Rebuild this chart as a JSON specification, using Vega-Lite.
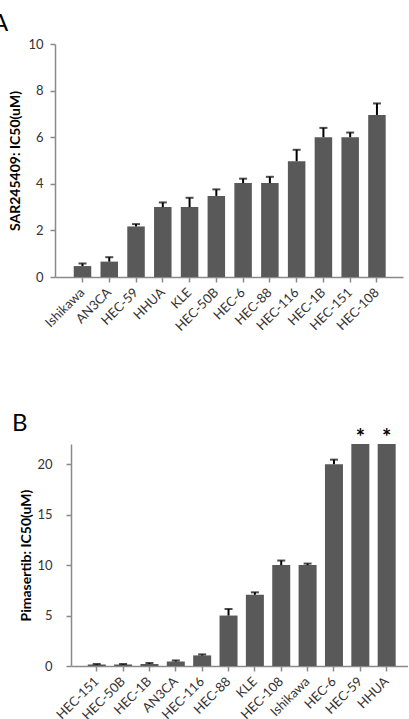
{
  "$schema": "https://vega.github.io/schema/vega-lite/v6.json",
  "padding": {"left": -8, "top": 12, "right": 0, "bottom": -4},
  "spacing": 78,
  "config": {
    "font": "Lato",
    "view": {"stroke": null},
    "axis": {
      "grid": false,
      "domainColor": "#8a8a8a",
      "domainWidth": 1.5,
      "tickColor": "#8a8a8a",
      "tickWidth": 1.5,
      "tickSize": 5,
      "labelFont": "Lato",
      "labelFontSize": 13,
      "labelColor": "#333333",
      "titleFont": "Lato",
      "titleFontSize": 14,
      "titleFontWeight": "bold",
      "titleColor": "#000000"
    }
  },
  "vconcat": [
    {
      "title": {"text": "A", "anchor": "start", "frame": "group", "dx": -63, "fontSize": 24, "fontWeight": "normal", "color": "#000000", "offset": 2},
      "width": 348,
      "height": 233,
      "data": {
        "values": [
          {"cell": "Ishikawa", "ic50": 0.47, "upper": 0.58},
          {"cell": "AN3CA", "ic50": 0.66, "upper": 0.85},
          {"cell": "HEC-59", "ic50": 2.17, "upper": 2.27},
          {"cell": "HHUA", "ic50": 3.0, "upper": 3.2},
          {"cell": "KLE", "ic50": 3.0, "upper": 3.4},
          {"cell": "HEC-50B", "ic50": 3.48, "upper": 3.76},
          {"cell": "HEC-6", "ic50": 4.03, "upper": 4.22},
          {"cell": "HEC-88", "ic50": 4.03, "upper": 4.3},
          {"cell": "HEC-116", "ic50": 4.97, "upper": 5.46},
          {"cell": "HEC-1B", "ic50": 6.0, "upper": 6.4},
          {"cell": "HEC-151", "ic50": 6.0, "upper": 6.2},
          {"cell": "HEC-108", "ic50": 6.95, "upper": 7.45}
        ]
      },
      "encoding": {
        "x": {
          "field": "cell",
          "type": "nominal",
          "sort": null,
          "scale": {"paddingInner": 0.346, "paddingOuter": 0.673, "align": 0.52},
          "axis": {"title": null, "labelAngle": -45, "labelAlign": "right", "labelBaseline": "middle", "labelPadding": 8}
        }
      },
      "layer": [
        {
          "mark": {"type": "bar", "color": "#595959"},
          "encoding": {
            "y": {
              "field": "ic50",
              "type": "quantitative",
              "scale": {"domain": [0, 10], "nice": false},
              "axis": {"title": "SAR245409: IC50(uM)", "values": [0, 2, 4, 6, 8, 10], "labelPadding": 7, "titlePadding": 5}
            }
          }
        },
        {
          "mark": {"type": "rule", "color": "#000000", "strokeWidth": 2},
          "encoding": {
            "y": {"field": "ic50", "type": "quantitative", "title": "SAR245409: IC50(uM)"},
            "y2": {"field": "upper"}
          }
        },
        {
          "mark": {"type": "tick", "orient": "horizontal", "color": "#000000", "size": 8, "thickness": 2},
          "encoding": {
            "y": {"field": "upper", "type": "quantitative", "title": "SAR245409: IC50(uM)"}
          }
        }
      ]
    },
    {
      "title": {"text": "B", "anchor": "start", "frame": "group", "dx": -43, "fontSize": 24, "fontWeight": "normal", "color": "#000000", "offset": -9},
      "width": 353,
      "height": 222,
      "data": {
        "values": [
          {"cell": "HEC-151", "ic50": 0.15, "upper": 0.2},
          {"cell": "HEC-50B", "ic50": 0.15, "upper": 0.2},
          {"cell": "HEC-1B", "ic50": 0.2, "upper": 0.3},
          {"cell": "AN3CA", "ic50": 0.45, "upper": 0.55},
          {"cell": "HEC-116", "ic50": 1.05, "upper": 1.15},
          {"cell": "HEC-88", "ic50": 5.0, "upper": 5.65},
          {"cell": "KLE", "ic50": 7.05, "upper": 7.3},
          {"cell": "HEC-108", "ic50": 10.0, "upper": 10.45},
          {"cell": "Ishikawa", "ic50": 10.0, "upper": 10.15},
          {"cell": "HEC-6", "ic50": 20.0, "upper": 20.45},
          {"cell": "HEC-59", "ic50": 22, "mark": "*"},
          {"cell": "HHUA", "ic50": 22, "mark": "*"}
        ]
      },
      "encoding": {
        "x": {
          "field": "cell",
          "type": "nominal",
          "sort": null,
          "scale": {"range": [16, 353], "paddingInner": 0.317, "paddingOuter": 0.551, "align": 0.576},
          "axis": {"title": null, "labelAngle": -45, "labelAlign": "right", "labelBaseline": "middle", "labelPadding": 8}
        }
      },
      "layer": [
        {
          "mark": {"type": "bar", "color": "#595959"},
          "encoding": {
            "y": {
              "field": "ic50",
              "type": "quantitative",
              "scale": {"domain": [0, 22], "nice": false},
              "axis": {"title": "Pimasertib: IC50(uM)", "values": [0, 5, 10, 15, 20], "offset": -16, "labelPadding": 14, "titlePadding": 3}
            }
          }
        },
        {
          "transform": [{"filter": "datum.upper != null"}],
          "mark": {"type": "rule", "color": "#000000", "strokeWidth": 2},
          "encoding": {
            "y": {"field": "ic50", "type": "quantitative", "title": "Pimasertib: IC50(uM)"},
            "y2": {"field": "upper"}
          }
        },
        {
          "transform": [{"filter": "datum.upper != null"}],
          "mark": {"type": "tick", "orient": "horizontal", "color": "#000000", "size": 8, "thickness": 2},
          "encoding": {
            "y": {"field": "upper", "type": "quantitative", "title": "Pimasertib: IC50(uM)"}
          }
        },
        {
          "transform": [{"filter": "datum.mark != null"}],
          "mark": {"type": "text", "baseline": "alphabetic", "dy": 1, "fontSize": 22, "fontWeight": "bold", "color": "#000000"},
          "encoding": {
            "y": {"field": "ic50", "type": "quantitative", "title": "Pimasertib: IC50(uM)"},
            "text": {"field": "mark"}
          }
        }
      ]
    }
  ]
}
